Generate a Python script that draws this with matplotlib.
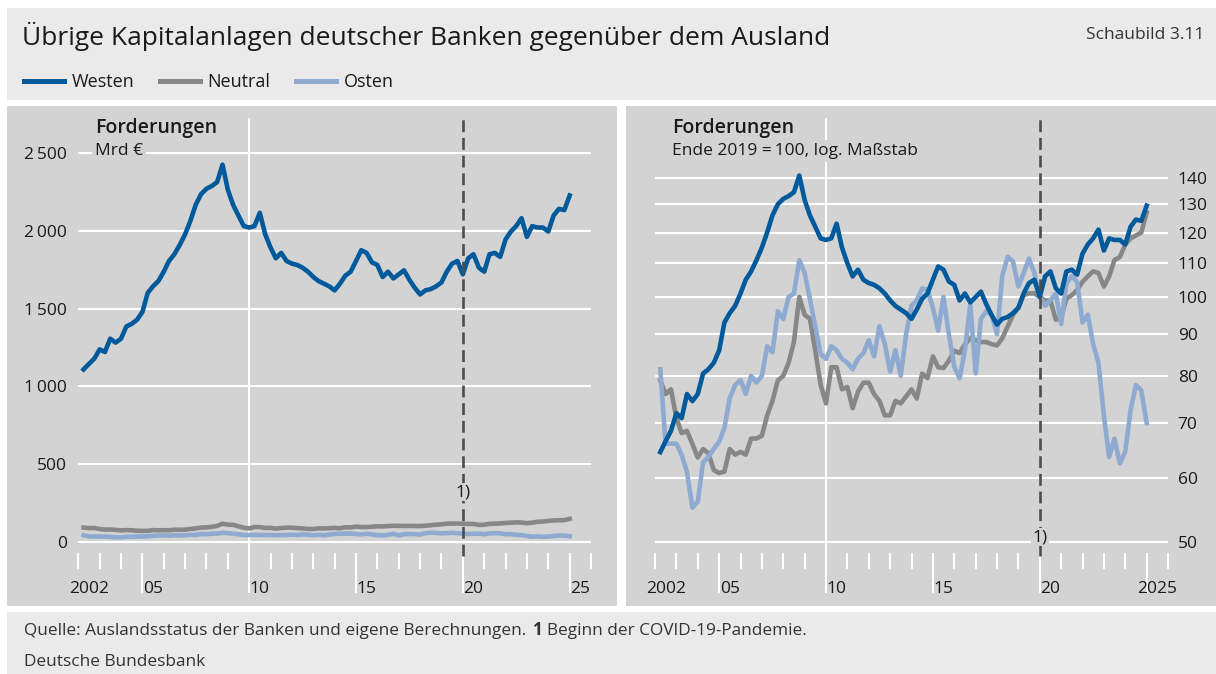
import numpy as np
import pandas as pd
import matplotlib
matplotlib.use("Agg")
import matplotlib.pyplot as plt
from matplotlib.lines import Line2D
from matplotlib.patches import Rectangle
from matplotlib.ticker import NullLocator

plt.rcParams["font.family"] = ["Open Sans", "DejaVu Sans"]

# end-of-quarter observations, 2002 Q1 .. 2024 Q4
quarters = pd.date_range("2002-03-31", periods=92, freq=pd.offsets.QuarterEnd())

# Forderungen in Mrd Euro (one row per year, Q1..Q4)
westen = [1109, 1144, 1178, 1238,
          1221, 1307, 1281, 1307,
          1385, 1402, 1428, 1479,
          1600, 1643, 1677, 1737,
          1806, 1849, 1909, 1978,
          2064, 2167, 2236, 2270,
          2288, 2313, 2425, 2262,
          2167, 2098, 2030, 2021,
          2030, 2116, 1978, 1892,
          1823, 1858, 1806, 1789,
          1780, 1763, 1737, 1703,
          1677, 1660, 1643, 1617,
          1660, 1711, 1737, 1806,
          1875, 1858, 1797, 1780,
          1703, 1737, 1694, 1720,
          1746, 1686, 1634, 1591,
          1617, 1625, 1643, 1668,
          1737, 1789, 1806, 1720,
          1823, 1849, 1763, 1737,
          1849, 1858, 1832, 1944,
          1995, 2030, 2081, 1961,
          2030, 2021, 2021, 1995,
          2098, 2141, 2133, 2227]

neutral = [92.4, 88.9, 90.1, 83.1,
           79.6, 80.1, 77.2, 74.3,
           76.1, 75.2, 71.7, 71.1,
           71.4, 76.1, 74.9, 75.5,
           74.9, 78.4, 78.4, 79.0,
           83.7, 87.2, 92.4, 93.6,
           97.1, 103.0, 117.0, 111.2,
           110.0, 100.6, 91.3, 86.6,
           95.9, 95.9, 90.1, 90.7,
           85.4, 89.5, 91.8, 91.8,
           88.9, 87.2, 83.7, 83.7,
           87.2, 86.6, 88.3, 90.1,
           87.8, 94.2, 93.0, 98.9,
           95.9, 95.7, 97.7, 100.5,
           99.8, 102.3, 104.1, 103.5,
           103.0, 103.0, 102.4, 102.0,
           104.1, 107.6, 111.2, 113.5,
           117.6, 118.2, 118.2, 117.0,
           115.8, 115.8, 109.7, 110.6,
           116.4, 117.6, 119.3, 122.1,
           124.0, 125.8, 125.2, 120.5,
           124.0, 129.9, 131.0, 135.7,
           138.1, 139.2, 140.4, 148.6]

osten = [43.2, 35.0, 35.0, 35.0,
         33.9, 32.3, 29.2, 29.7,
         33.2, 33.7, 34.5, 35.2,
         36.6, 39.8, 41.3, 41.9,
         40.3, 42.4, 41.6, 42.4,
         46.1, 45.3, 50.9, 49.8,
         53.0, 53.5, 58.8, 56.7,
         52.7, 48.8, 45.1, 44.5,
         46.1, 45.6, 44.5, 44.0,
         43.2, 44.5, 45.2, 46.9,
         44.8, 48.8, 46.4, 42.9,
         45.6, 42.4, 47.7, 51.7,
         52.5, 54.3, 54.1, 51.4,
         48.2, 53.0, 47.7, 43.5,
         42.1, 45.6, 51.9, 42.7,
         49.8, 50.9, 50.4, 47.7,
         56.2, 59.4, 58.6, 54.6,
         56.7, 59.1, 56.7, 53.0,
         51.7, 52.5, 53.5, 49.1,
         55.1, 56.2, 55.3, 49.3,
         50.4, 46.4, 44.0, 37.9,
         33.7, 35.5, 33.1, 34.2,
         38.5, 41.3, 40.7, 37.1]

series_names = ["Westen", "Neutral", "Osten"]
series_colors = ["#00599b", "#878787", "#8eaad0"]

year_ticks = list(range(2002, 2027))
long_ticks = [2005, 2010, 2015, 2020, 2025]
label_years = [2002, 2005, 2010, 2015, 2020, 2025]
left_xlabels = ["2002", "05", "10", "15", "20", "25"]
right_xlabels = ["2002", "05", "10", "15", "20", "2025"]

left_yticks = [0, 500, 1000, 1500, 2000, 2500]
left_ylabels = ["0", "500", "1\u2009000", "1\u2009500", "2\u2009000", "2\u2009500"]
right_yticks = [50, 60, 70, 80, 90, 100, 110, 120, 130, 140]

covid_year = 2020

W, H = 1216, 674
BG = "#eaeaea"
PANEL = "#d3d3d3"
TXT = "#1a1a1a"
LW = 3.3

years = np.asarray(quarters.year + quarters.dayofyear / 365.0, dtype=float)
end2019 = quarters.get_loc(pd.Timestamp("2019-12-31"))


def to_index(values):
    values = np.asarray(values, dtype=float)
    return values / values[end2019] * 100


fig = plt.figure(figsize=(W / 100, H / 100), dpi=100, facecolor="white")


def fig_rect(x0, y0, x1, y1, color):
    fig.add_artist(Rectangle((x0 / W, 1 - y1 / H), (x1 - x0) / W, (y1 - y0) / H,
                             transform=fig.transFigure, facecolor=color,
                             edgecolor="none", zorder=-5))


def fig_text(x, y, s, **kwargs):
    return fig.text(x / W, 1 - y / H, s, **kwargs)


def px_axes(x0, y0, x1, y1):
    return fig.add_axes([x0 / W, 1 - y1 / H, (x1 - x0) / W, (y1 - y0) / H])


def time_axis(ax, labels):
    for sp in ax.spines.values():
        sp.set_visible(False)
    ax.set_facecolor("none")
    ax.set_xlim(2002, 2026)
    ax.set_xticks([y + 0.5 for y in label_years], labels)
    ax.set_xticks(year_ticks, minor=True)
    ax.tick_params(axis="x", which="major", length=0, pad=20, labelsize=12.5, labelcolor=TXT)
    ax.tick_params(axis="x", which="minor", length=11.5, width=1.5, color="white")
    sec = ax.secondary_xaxis("bottom")
    sec.set_xticks(long_ticks)
    sec.tick_params(length=28.5, width=1.5, color="white", labelbottom=False)
    sec.spines["bottom"].set_visible(False)
    ax.grid(axis="y", color="white", lw=1.5)
    ax.set_axisbelow(True)
    ax.axvline(2010, color="white", lw=1.5, zorder=1)
    ax.axvline(covid_year, ymin=-0.006, color="#4d4d4d", lw=1.9,
               ls=(0, (4.5, 2.2)), zorder=4, clip_on=False)


# backgrounds
fig_rect(7, 8, W, 100, BG)
fig_rect(7, 106, 617, 606, PANEL)
fig_rect(626, 106, W, 606, PANEL)
fig_rect(7, 612, W, H, BG)

# left panel: levels
ax1 = px_axes(78.3, 118, 591, 553)
time_axis(ax1, left_xlabels)
ax1.set_ylim(-71, 2725)
level_data = {"Westen": westen, "Neutral": neutral, "Osten": osten}
for name in ["Neutral", "Osten", "Westen"]:
    c = series_colors[series_names.index(name)]
    ax1.plot(years, level_data[name], color=c, lw=LW, zorder=3)
ax1.set_yticks(left_yticks, left_ylabels)
ax1.tick_params(axis="y", length=0, pad=8, labelsize=12.5, labelcolor=TXT)
ax1.text(covid_year, 321, "1)", ha="center", va="center", fontsize=12.5, color=TXT,
         bbox=dict(fc=PANEL, ec="none", pad=1), zorder=5)

# right panel: index, log scale
ax2 = px_axes(655, 118, 1168, 553)
time_axis(ax2, right_xlabels)
ax2.set_yscale("log")
ax2.set_ylim(48.47, 165.9)
for name in ["Neutral", "Osten", "Westen"]:
    c = series_colors[series_names.index(name)]
    ax2.plot(years, to_index(level_data[name]), color=c, lw=LW, zorder=3)
ax2.set_yticks(right_yticks, [str(v) for v in right_yticks])
ax2.yaxis.set_minor_locator(NullLocator())
ax2.yaxis.tick_right()
ax2.tick_params(axis="y", which="both", length=0, pad=7, labelsize=12.5, labelcolor=TXT)
ax2.text(covid_year, 50.7, "1)", ha="center", va="center", fontsize=12.5, color=TXT,
         bbox=dict(fc=PANEL, ec="none", pad=1), zorder=5)

# panel headings
for x0, sub in [(95, "Mrd €"), (672, "Ende 2019 =\u2009100, log. Maßstab")]:
    fig_text(x0, 128, "Forderungen", fontsize=14, fontweight="semibold", va="center", color=TXT)
    fig_text(x0, 151, sub, fontsize=12.5, va="center", color=TXT,
             bbox=dict(fc=PANEL, ec="none", pad=2))

# title, legend
fig_text(22, 45, "Übrige Kapitalanlagen deutscher Banken gegenüber dem Ausland",
         fontsize=19, va="baseline", color=TXT)
fig_text(1204, 39, "Schaubild 3.11", fontsize=12.5, ha="right", va="baseline", color="#333333")
handles = [Line2D([], [], color=c, lw=3.6) for c in series_colors]
fig.legend(handles, series_names, loc="center left", bbox_to_anchor=(24 / W, 1 - 82 / H),
           ncol=3, frameon=False, fontsize=13, handlelength=2.2, handletextpad=0.45,
           columnspacing=1.4, borderpad=0, borderaxespad=0, labelcolor=TXT)

# footer
t1 = fig_text(24, 635, "Quelle: Auslandsstatus der Banken und eigene Berechnungen.",
              fontsize=12.4, va="baseline", color="#333333")
t2 = ax1.annotate("1", xy=(1, 0), xycoords=t1, xytext=(4, 0), textcoords="offset points",
                  fontsize=12.4, fontweight="bold", va="bottom", color="#333333",
                  annotation_clip=False)
ax1.annotate("Beginn der COVID-19-Pandemie.", xy=(1, 0), xycoords=t2, xytext=(4, 0),
             textcoords="offset points", fontsize=12.4, va="bottom", color="#333333",
             annotation_clip=False)
fig_text(24, 666, "Deutsche Bundesbank", fontsize=12.4, va="baseline", color="#333333")

fig.savefig("out.png", dpi=100, facecolor=fig.get_facecolor())
